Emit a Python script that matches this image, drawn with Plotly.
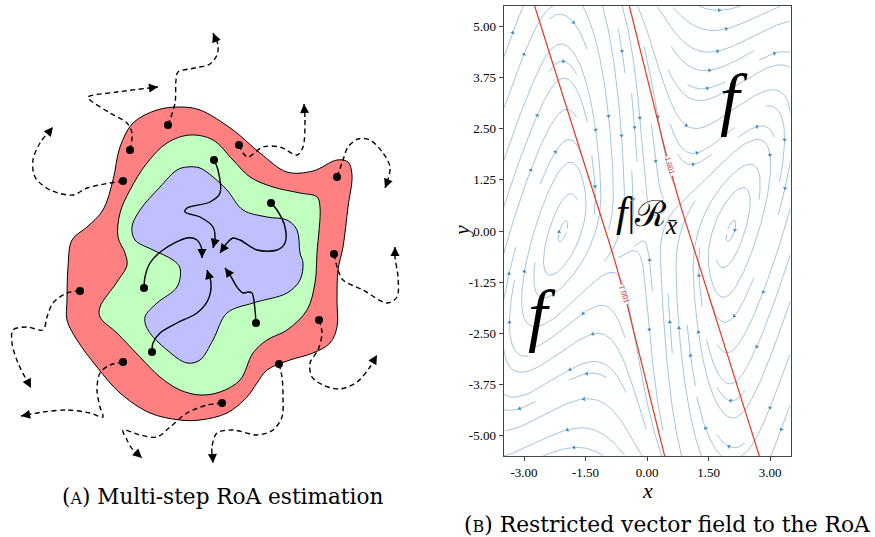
import math
import numpy as np
import plotly.graph_objects as go

FIG_W, FIG_H = 875, 537
SERIF = "Liberation Serif, DejaVu Serif, serif"
WIDE_SERIF = "DejaVu Serif, Liberation Serif, serif"

# ---------------------------------------------------------------------------
# Panel (a): nested region-of-attraction estimates (sketch units, y downward)
# ---------------------------------------------------------------------------
roa_outer_x = [180, 200, 233, 260, 287, 313, 337, 348, 352, 348, 343, 338, 337, 337, 330,
               313, 290, 267, 257, 247, 227, 200, 180, 150, 120, 97, 77, 67, 67, 68, 72,
               87, 103, 113, 120, 133, 157]
roa_outer_y = [107, 110, 130, 153, 172, 171, 160, 162, 175, 207, 247, 270, 300, 327, 343,
               353, 360, 370, 383, 397, 413, 420, 420, 413, 393, 367, 340, 320, 300, 267, 240,
               227, 210, 180, 147, 123, 110]

roa_middle_x = [190, 213, 233, 250, 273, 300, 317, 320, 317, 315, 307, 287, 267, 253, 240,
                220, 200, 180, 160, 140, 117, 100, 100, 117, 127, 125, 118, 120, 130, 147, 167]
roa_middle_y = [135, 140, 160, 177, 187, 193, 197, 207, 253, 283, 310, 330, 340, 353, 380,
                392, 395, 390, 377, 357, 333, 317, 307, 282, 265, 253, 237, 213, 190, 163, 143]

roa_inner_x = [187, 200, 213, 227, 243, 267, 287, 297, 300, 303, 300, 287, 253, 227, 213,
               200, 187, 167, 148, 145, 157, 177, 180, 173, 153, 135, 132, 140, 160, 177]
roa_inner_y = [167, 168, 177, 190, 210, 217, 220, 230, 253, 263, 280, 293, 303, 313, 340,
               360, 363, 350, 330, 317, 303, 287, 268, 260, 250, 240, 227, 210, 187, 170]

# trajectories that leave the estimate (dashed) - first point is the initial state
escaping_paths = [
    ([168, 175, 176, 178, 195, 210, 217, 218, 213], [125, 103, 80, 72, 68, 64, 55, 45, 33]),
    ([130, 132, 127, 110, 90, 88, 117, 158], [150, 133, 123, 113, 100, 97, 92, 87]),
    ([123, 110, 87, 73, 50, 35, 33, 40, 53], [181, 183, 188, 195, 190, 177, 160, 143, 127]),
    ([239, 243, 248, 263, 280, 297, 303, 305, 304], [145, 153, 157, 147, 147, 155, 147, 120, 104]),
    ([337, 343, 348, 358, 370, 383, 390, 387, 385], [177, 160, 147, 139, 140, 153, 167, 183, 188]),
    ([334, 338, 343, 363, 387, 397, 398, 395, 395], [254, 270, 280, 290, 303, 297, 277, 257, 247]),
    ([319, 322, 318, 310, 312, 323, 340, 357, 370, 377], [320, 333, 350, 363, 377, 385, 389, 382, 367, 355]),
    ([279, 282, 283, 282, 273, 257, 233, 217, 212, 213], [364, 377, 397, 417, 430, 435, 430, 433, 447, 463]),
    ([222, 207, 187, 170, 157, 140, 123, 127, 133, 142], [403, 405, 413, 427, 437, 435, 430, 440, 450, 458]),
    ([123, 110, 100, 97, 100, 103, 90, 67, 43, 21], [362, 365, 373, 390, 407, 417, 413, 410, 412, 416]),
    ([80, 67, 53, 47, 43, 27, 13, 12, 18, 31], [291, 293, 303, 317, 330, 327, 330, 343, 363, 388]),
]

# trajectories that converge inside the estimate (solid)
converging_paths = [
    ([214, 218, 220, 210, 187, 185, 200, 213, 215, 213], [160, 170, 193, 202, 208, 212, 217, 227, 240, 248]),
    ([271, 277, 285, 285, 277, 257, 240, 233, 227, 220], [203, 210, 227, 243, 250, 250, 240, 238, 243, 253]),
    ([144, 145, 150, 163, 187, 197, 202, 202], [288, 277, 263, 250, 238, 240, 250, 258]),
    ([152, 153, 160, 177, 197, 208, 211, 207], [352, 343, 333, 323, 313, 300, 283, 270]),
    ([256, 255, 252, 248, 243, 237, 230, 225], [323, 310, 293, 292, 293, 287, 275, 268]),
]

caption_a = "(<span style='font-size:16px'>A</span>) Multi-step RoA estimation"
caption_b = "(<span style='font-size:16px'>B</span>) Restricted vector field to the RoA"

# ---------------------------------------------------------------------------
# Panel (b): vector field, RoA boundary and axes
# ---------------------------------------------------------------------------
x_range = [-3.5, 3.5]
y_range = [-5.5, 5.5]
x_ticks = [-3.0, -1.5, 0.0, 1.5, 3.0]
x_tick_text = ["-3.00", "-1.50", "0.00", "1.50", "3.00"]
y_ticks = [-5.0, -3.75, -2.5, -1.25, 0.0, 1.25, 2.5, 3.75, 5.0]
y_tick_text = ["-5.00", "-3.75", "-2.50", "-1.25", "0.00", "1.25", "2.50", "3.75", "5.00"]

# sheared double-well oscillator, strongly damped across the RoA band
FIELD_ALPHA = 2.0      # x' gain
FIELD_BETA = 8.0       # restoring strength
FIELD_WELL = 2.05      # position of the two centres
FIELD_SHEAR = 0.3      # shear of the restoring coordinate
FIELD_GAMMA = 14.0     # damping inside the band
FIELD_BAND = 1.1       # half-width of the damped band
FIELD_BAND_TILT = 0.29 # band direction (dx/dy of its edges, negated)

# level set {V = 1.001} bounding the RoA estimate (two branches)
roa_right_x = [-0.43, 0.48, 0.80, 1.13, 2.74]
roa_right_y = [5.50, 1.82, 0.68, -0.38, -5.50]
roa_left_x = [-2.74, -1.13, -0.80, -0.48, 0.43]
roa_left_y = [5.50, 0.38, -0.68, -1.82, -5.50]
roa_level_text = "1.001"
roa_label_y = [1.59, -1.55]   # right branch, left branch


def vector_field(x, y):
    w = x - FIELD_SHEAR * y
    g = w * (1.0 - (w / FIELD_WELL) ** 2)
    v = (x + FIELD_BAND_TILT * y) / FIELD_BAND
    band = 1.0 / (1.0 + v ** 4)
    damp = FIELD_GAMMA * y * band * (1.0 - math.exp(-y * y))
    return FIELD_ALPHA * y + FIELD_SHEAR * FIELD_BETA * g, FIELD_BETA * g - damp


def spiral_cells(n):
    xfirst, yfirst, xlast, ylast = 0, 1, n - 1, n - 1
    x = y = 0
    direction = "right"
    for _ in range(n * n):
        yield x, y
        if direction == "right":
            x += 1
            if x >= xlast:
                xlast -= 1
                direction = "up"
        elif direction == "up":
            y += 1
            if y >= ylast:
                ylast -= 1
                direction = "left"
        elif direction == "left":
            x -= 1
            if x <= xfirst:
                xfirst += 1
                direction = "down"
        else:
            y -= 1
            if y <= yfirst:
                yfirst += 1
                direction = "right"


def trace_streamlines(fun, xr, yr, nmask=30, ds=1 / 150, maxlength=4.0, minlength=0.1):
    sx = xr[1] - xr[0]
    sy = yr[1] - yr[0]
    mask = np.zeros((nmask, nmask), dtype=bool)

    def direction(px, py):
        u, v = fun(xr[0] + px * sx, yr[0] + py * sy)
        u /= sx
        v /= sy
        sp = math.hypot(u, v)
        if not math.isfinite(sp) or sp < 1e-12:
            return None
        return u / sp, v / sp

    def cell(px, py):
        return int(round(px * (nmask - 1))), int(round(py * (nmask - 1)))

    def run(px, py, sign, owned):
        pts, length, cur = [], 0.0, cell(px, py)
        while length < maxlength:
            d1 = direction(px, py)
            if d1 is None:
                break
            mx, my = px + sign * 0.5 * ds * d1[0], py + sign * 0.5 * ds * d1[1]
            if not (0 <= mx <= 1 and 0 <= my <= 1):
                break
            d2 = direction(mx, my)
            if d2 is None:
                break
            qx, qy = px + sign * ds * d2[0], py + sign * ds * d2[1]
            if not (0 <= qx <= 1 and 0 <= qy <= 1):
                break
            c = cell(qx, qy)
            if c != cur:
                if mask[c[1], c[0]]:
                    break
                mask[c[1], c[0]] = True
                owned.append(c)
                cur = c
            px, py = qx, qy
            pts.append((px, py))
            length += ds
        return pts, length

    lines = []
    for i, j in spiral_cells(nmask):
        if mask[j, i]:
            continue
        px, py = i / (nmask - 1), j / (nmask - 1)
        mask[j, i] = True
        owned = [(i, j)]
        back, lb = run(px, py, -1, owned)
        fwd, lf = run(px, py, +1, owned)
        if lb + lf < minlength:
            for a, b in owned:
                mask[b, a] = False
            continue
        arr = np.array(back[::-1] + [(px, py)] + fwd)
        lines.append(np.column_stack([xr[0] + arr[:, 0] * sx, yr[0] + arr[:, 1] * sy]))
    return lines


# pixel geometry of the axes box of panel (b)
AX_LEFT, AX_RIGHT, AX_TOP, AX_BOTTOM = 503.5, 790.5, 6.0, 456.0
px_per_x = (AX_RIGHT - AX_LEFT) / (x_range[1] - x_range[0])
px_per_y = (AX_BOTTOM - AX_TOP) / (y_range[1] - y_range[0])

streamlines = trace_streamlines(vector_field, x_range, y_range)

line_x, line_y = [], []
arrow_x, arrow_y, arrow_angle = [], [], []
for L in streamlines:
    line_x += list(L[:, 0]) + [None]
    line_y += list(L[:, 1]) + [None]
    seg = np.hypot(np.diff(L[:, 0]), np.diff(L[:, 1]))
    if len(seg) == 0:
        continue
    s = np.cumsum(seg)
    n = min(int(np.searchsorted(s, s[-1] / 2.0)), len(L) - 2)
    tail = L[n]
    head = L[n:n + 2].mean(axis=0)
    d = head - tail
    arrow_x.append(head[0])
    arrow_y.append(head[1])
    arrow_angle.append(math.degrees(math.atan2(d[0] * px_per_x, d[1] * px_per_y)))

fig = go.Figure()

# ---- panel (a) ----
for xs, ys, col in [(roa_outer_x, roa_outer_y, "#ff8080"),
                    (roa_middle_x, roa_middle_y, "#c0ffc0"),
                    (roa_inner_x, roa_inner_y, "#c0c0ff")]:
    fig.add_trace(go.Scatter(
        x=xs + xs[:1], y=ys + ys[:1], xaxis="x2", yaxis="y2",
        mode="lines", line=dict(color="black", width=1, shape="spline", smoothing=1.0),
        fill="toself", fillcolor=col, hoverinfo="skip", showlegend=False))


def add_path(xs, ys, dash):
    fig.add_trace(go.Scatter(
        x=xs, y=ys, xaxis="x2", yaxis="y2", mode="lines",
        line=dict(color="black", width=1.4, dash=dash, shape="spline", smoothing=0.9),
        hoverinfo="skip", showlegend=False))
    tx, ty = xs[-1], ys[-1]
    dx, dy = tx - xs[-2], ty - ys[-2]
    norm = math.hypot(dx, dy)
    fig.add_annotation(
        x=tx, y=ty, ax=tx - 6 * dx / norm, ay=ty - 6 * dy / norm,
        xref="x2", yref="y2", axref="x2", ayref="y2", text="",
        showarrow=True, arrowhead=2, arrowsize=1.3, arrowwidth=1.4, arrowcolor="black")


for xs, ys in escaping_paths:
    add_path(xs, ys, "5px,3.5px")
for xs, ys in converging_paths:
    add_path(xs, ys, "solid")

fig.add_trace(go.Scatter(
    x=[p[0][0] for p in escaping_paths + converging_paths],
    y=[p[1][0] for p in escaping_paths + converging_paths],
    xaxis="x2", yaxis="y2", mode="markers",
    marker=dict(color="black", size=8), hoverinfo="skip", showlegend=False))

# ---- panel (b) ----
fig.add_trace(go.Scatter(
    x=line_x, y=line_y, mode="lines",
    line=dict(color="rgba(31,119,180,0.42)", width=1),
    hoverinfo="skip", showlegend=False))
fig.add_trace(go.Scatter(
    x=arrow_x, y=arrow_y, mode="markers",
    marker=dict(symbol="triangle-up", size=4, angle=arrow_angle,
                color="rgba(31,119,180,0.8)", line=dict(width=0)),
    hoverinfo="skip", showlegend=False))

# RoA boundary with an inline gap for each level label
label_gap = 0.24
for bx, by, ly in [(roa_right_x, roa_right_y, roa_label_y[0]),
                   (roa_left_x, roa_left_y, roa_label_y[1])]:
    ys_sorted = by[::-1]
    xs_sorted = bx[::-1]
    for lo, hi in [(y_range[0], ly - label_gap), (ly + label_gap, y_range[1])]:
        keep = [(x, y) for x, y in zip(xs_sorted, ys_sorted) if lo < y < hi]
        seg_y = [lo] + [k[1] for k in keep] + [hi]
        seg_x = list(np.interp(seg_y, ys_sorted, xs_sorted))
        fig.add_trace(go.Scatter(x=seg_x, y=seg_y, mode="lines",
                                 line=dict(color="#ee3322", width=1.2, shape="spline"),
                                 hoverinfo="skip", showlegend=False))
    lx = float(np.interp(ly, ys_sorted, xs_sorted))
    fig.add_annotation(x=lx, y=ly, text=roa_level_text, showarrow=False, textangle=73,
                       xanchor="center", yanchor="middle",
                       font=dict(family=SERIF, size=8, color="#ee3322"))

# function labels
fig.add_annotation(x=2.12, y=3.25, text="<i>f</i>", showarrow=False,
                   xanchor="center", yanchor="middle",
                   font=dict(family=SERIF, size=70, color="black"))
fig.add_annotation(x=-2.56, y=-2.05, text="<i>f</i>", showarrow=False,
                   xanchor="center", yanchor="middle",
                   font=dict(family=SERIF, size=70, color="black"))
fig.add_annotation(x=-0.02, y=0.42,
                   text="<span style='font-size:42px'><i>f</i></span>|ℛ<sub><i>x̄</i></sub>",
                   showarrow=False, xanchor="center", yanchor="middle",
                   font=dict(family=SERIF, size=36, color="black"))

# axis titles and captions
fig.add_annotation(x=(AX_LEFT + AX_RIGHT) / 2 / FIG_W, y=1 - 490 / FIG_H, xref="paper", yref="paper",
                   xanchor="center", yanchor="middle",
                   text="<i>x</i>", showarrow=False, font=dict(family=SERIF, size=22, color="black"))
fig.add_annotation(x=461 / FIG_W, y=1 - 231 / FIG_H, xref="paper", yref="paper",
                   xanchor="center", yanchor="middle",
                   text="<i>y</i>", showarrow=False, textangle=-90,
                   font=dict(family=SERIF, size=22, color="black"))
fig.add_annotation(x=222 / FIG_W, y=1 - 496 / FIG_H, xref="paper", yref="paper",
                   xanchor="center", yanchor="middle",
                   text=caption_a, showarrow=False, font=dict(family=WIDE_SERIF, size=21.6, color="black"))
fig.add_annotation(x=667 / FIG_W, y=1 - 524 / FIG_H, xref="paper", yref="paper",
                   xanchor="center", yanchor="middle",
                   text=caption_b, showarrow=False, font=dict(family=WIDE_SERIF, size=21.8, color="black"))

axis_common = dict(showgrid=False, zeroline=False, showline=True, linecolor="#444",
                   linewidth=1, mirror=True, ticks="outside", ticklen=4, tickcolor="#444",
                   tickfont=dict(family=SERIF, size=13, color="black"))

fig.update_layout(
    width=FIG_W, height=FIG_H, margin=dict(l=0, r=0, t=0, b=0),
    paper_bgcolor="white", plot_bgcolor="white", showlegend=False,
    xaxis=dict(domain=[AX_LEFT / FIG_W, AX_RIGHT / FIG_W], range=x_range,
               tickvals=x_ticks, ticktext=x_tick_text, **axis_common),
    yaxis=dict(domain=[1 - AX_BOTTOM / FIG_H, 1 - AX_TOP / FIG_H], range=y_range,
               tickvals=y_ticks, ticktext=y_tick_text, **axis_common),
    xaxis2=dict(domain=[0, 445 / FIG_W], range=[0, 445], visible=False, fixedrange=True),
    yaxis2=dict(domain=[0, 1], range=[FIG_H, 0], visible=False, fixedrange=True, anchor="x2"),
)

fig.write_html("out.html")
